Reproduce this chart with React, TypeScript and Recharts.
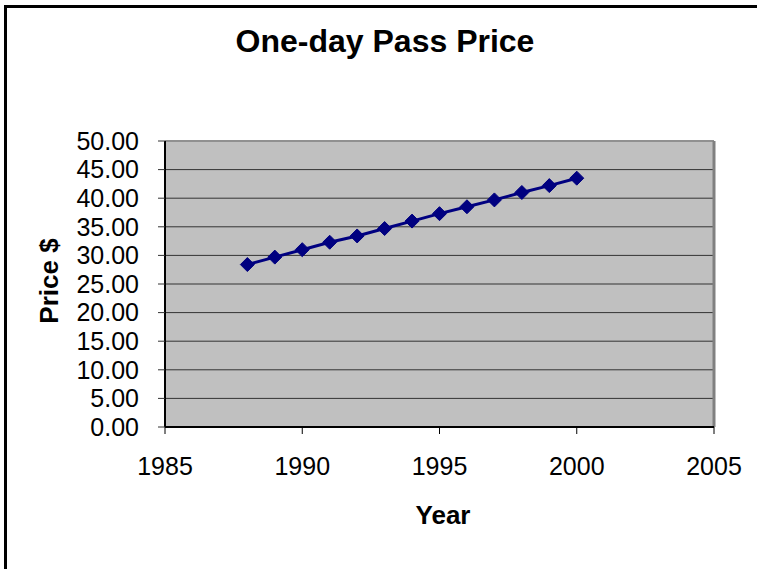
import { LineChart, Line, XAxis, YAxis, CartesianGrid, ReferenceLine } from "recharts"

const FONT = "'Liberation Sans', Arial, sans-serif"

const years = [1988, 1989, 1990, 1991, 1992, 1993, 1994, 1995, 1996, 1997, 1998, 1999, 2000]
const prices = [28.4, 29.7, 31.0, 32.3, 33.4, 34.7, 36.0, 37.3, 38.5, 39.7, 41.0, 42.2, 43.5]
const xTicks = [1985, 1990, 1995, 2000, 2005]
const yTicks = [0, 5, 10, 15, 20, 25, 30, 35, 40, 45, 50]

const data = years.map((year, i) => ({ year, price: prices[i] }))

// diamond marker like the old Excel default
const Diamond = (props: any) => {
  const { cx, cy, index } = props
  if (cx == null || cy == null) return null
  const r = 7
  return (
    <path
      key={`d-${index}`}
      d={`M${cx},${cy - r} L${cx + r},${cy} L${cx},${cy + r} L${cx - r},${cy} Z`}
      fill="#000080"
      stroke="#000080"
      strokeWidth={1}
    />
  )
}

export default function App() {
  return (
    <div style={{ position: "absolute", left: 0, top: 0, width: 757, height: 569, overflow: "hidden", background: "#fff" }}>
      <div style={{ position: "absolute", left: 4, top: 5, width: 800, height: 650, border: "3px solid #000" }} />
      <div style={{ position: "absolute", left: 0, top: 0 }}>
        <LineChart width={757} height={569} data={data} margin={{ top: 141, right: 43, left: 0, bottom: 82 }}>
          <CartesianGrid vertical={false} stroke="#333" fill="#C0C0C0" />
          <XAxis
            dataKey="year"
            type="number"
            domain={[1985, 2005]}
            ticks={xTicks}
            interval={0}
            height={60}
            tickSize={7}
            tickMargin={23}
            tick={{ fill: "#000", fontSize: 25, fontFamily: FONT }}
            axisLine={{ stroke: "#000", strokeWidth: 2 }}
            tickLine={{ stroke: "#000" }}
          />
          <YAxis
            domain={[0, 50]}
            ticks={yTicks}
            interval={0}
            width={165}
            tickSize={7}
            tickMargin={19}
            tickFormatter={(v: number) => v.toFixed(2)}
            tick={{ fill: "#000", fontSize: 25, fontFamily: FONT }}
            axisLine={{ stroke: "#000", strokeWidth: 2 }}
            tickLine={{ stroke: "#333" }}
          />
          <ReferenceLine y={50} stroke="#909090" strokeWidth={2} />
          <ReferenceLine x={2005} stroke="#808080" strokeWidth={3} />
          <Line
            dataKey="price"
            type="linear"
            stroke="#000080"
            strokeWidth={3}
            dot={Diamond}
            activeDot={false}
            isAnimationActive={false}
          />
        </LineChart>
      </div>
      <svg width={757} height={569} style={{ position: "absolute", left: 0, top: 0, pointerEvents: "none" }}>
        <text x={385} y={52} textAnchor="middle" fontFamily={FONT} fontWeight="bold" fontSize={32} fill="#000">
          One-day Pass Price
        </text>
        <text x={443} y={524} textAnchor="middle" fontFamily={FONT} fontWeight="bold" fontSize={26} fill="#000">
          Year
        </text>
        <text
          x={0}
          y={0}
          transform="translate(58,281) rotate(-90)"
          textAnchor="middle"
          fontFamily={FONT}
          fontWeight="bold"
          fontSize={26}
          fill="#000"
        >
          Price $
        </text>
      </svg>
    </div>
  )
}
